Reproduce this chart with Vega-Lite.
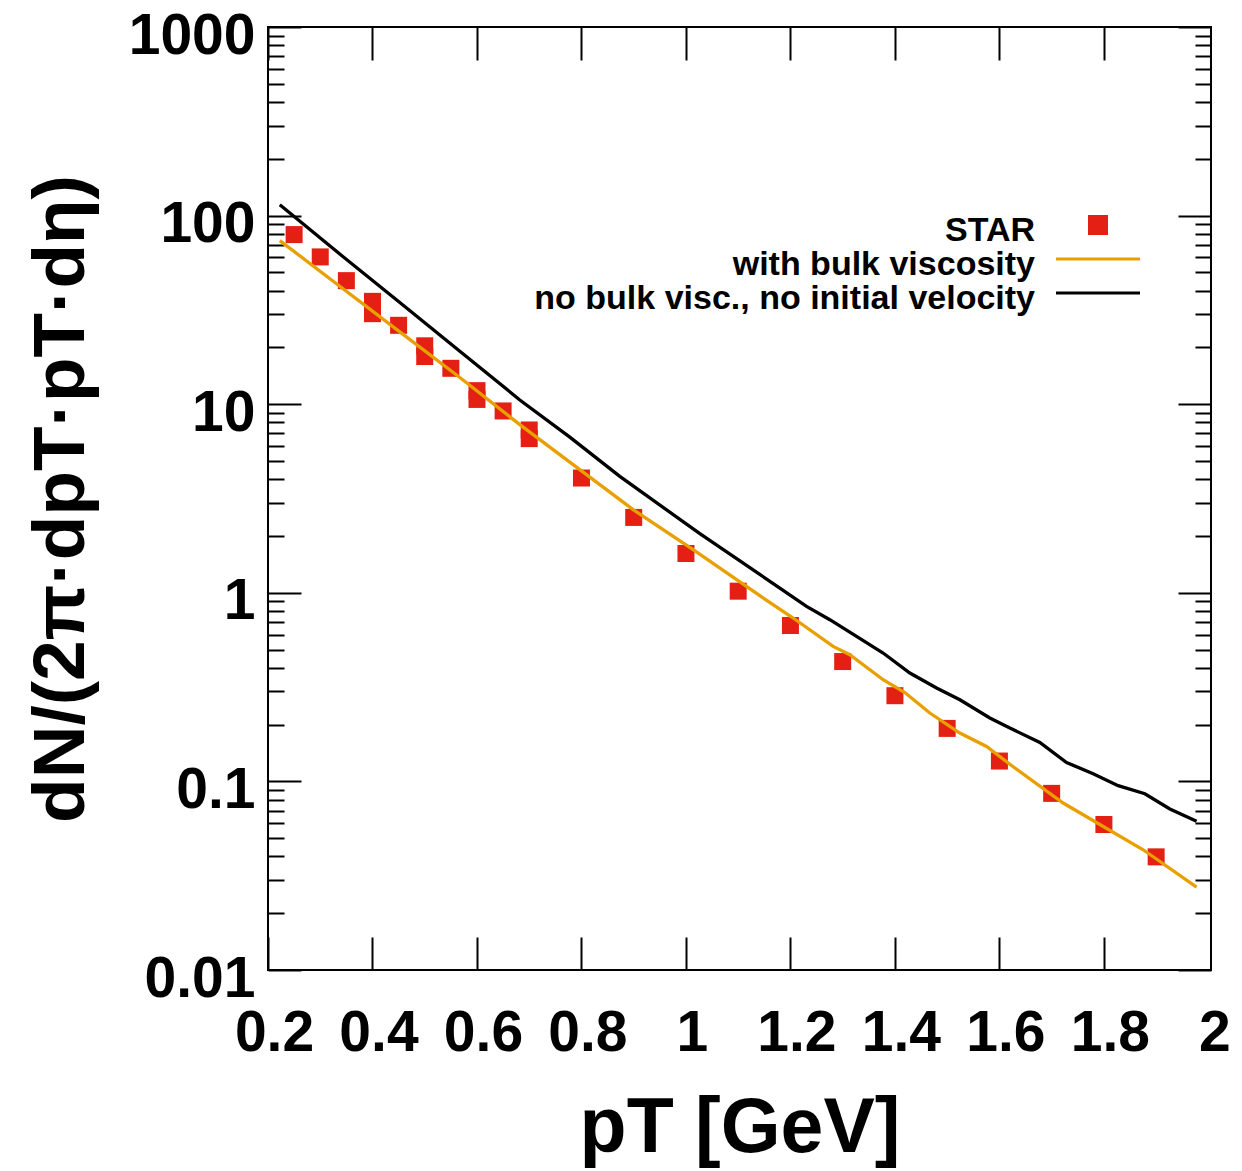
{
  "$schema": "https://vega.github.io/schema/vega-lite/v6.json",
  "width": 943,
  "height": 943,
  "autosize": {"type": "none"},
  "padding": {"left": 268, "top": 27, "right": 31, "bottom": 201},
  "background": "white",
  "config": {
    "font": "Liberation Sans",
    "view": {"stroke": "black", "strokeWidth": 2},
    "axis": {
      "domain": false, "grid": false, "tickColor": "black", "tickWidth": 2,
      "labelFont": "Liberation Sans", "labelFontWeight": "bold", "labelColor": "black",
      "titleFont": "Liberation Sans", "titleFontWeight": "bold", "titleColor": "black",
      "labelOverlap": false, "labelFlush": false, "labelBound": false, "labelLimit": 0
    }
  },
  "datasets": {
    "star": [
      {"series": "STAR", "pT": 0.25, "value": 79.3},
      {"series": "STAR", "pT": 0.3, "value": 60.4},
      {"series": "STAR", "pT": 0.35, "value": 45.2},
      {"series": "STAR", "pT": 0.4, "value": 35.1},
      {"series": "STAR", "pT": 0.45, "value": 26.2},
      {"series": "STAR", "pT": 0.5, "value": 20.4},
      {"series": "STAR", "pT": 0.55, "value": 15.5},
      {"series": "STAR", "pT": 0.6, "value": 11.8},
      {"series": "STAR", "pT": 0.65, "value": 9.21},
      {"series": "STAR", "pT": 0.7, "value": 7.3},
      {"series": "STAR", "pT": 0.4, "value": 30.2},
      {"series": "STAR", "pT": 0.5, "value": 17.9},
      {"series": "STAR", "pT": 0.6, "value": 10.6},
      {"series": "STAR", "pT": 0.7, "value": 6.57},
      {"series": "STAR", "pT": 0.8, "value": 4.06},
      {"series": "STAR", "pT": 0.9, "value": 2.51},
      {"series": "STAR", "pT": 1.0, "value": 1.616},
      {"series": "STAR", "pT": 1.1, "value": 1.02},
      {"series": "STAR", "pT": 1.2, "value": 0.671},
      {"series": "STAR", "pT": 1.3, "value": 0.432},
      {"series": "STAR", "pT": 1.4, "value": 0.2847},
      {"series": "STAR", "pT": 1.5, "value": 0.191},
      {"series": "STAR", "pT": 1.6, "value": 0.1282},
      {"series": "STAR", "pT": 1.7, "value": 0.0864},
      {"series": "STAR", "pT": 1.8, "value": 0.0591},
      {"series": "STAR", "pT": 1.9, "value": 0.0398}
    ],
    "model": [
      {"series": "no bulk visc., no initial velocity", "pT": 0.2226, "value": 114.3},
      {"series": "no bulk visc., no initial velocity", "pT": 0.3374, "value": 62.5},
      {"series": "no bulk visc., no initial velocity", "pT": 0.4523, "value": 34.6},
      {"series": "no bulk visc., no initial velocity", "pT": 0.5672, "value": 19.1},
      {"series": "no bulk visc., no initial velocity", "pT": 0.682, "value": 10.53},
      {"series": "no bulk visc., no initial velocity", "pT": 0.7777, "value": 6.69},
      {"series": "no bulk visc., no initial velocity", "pT": 0.8734, "value": 4.142},
      {"series": "no bulk visc., no initial velocity", "pT": 1.0266, "value": 2.058},
      {"series": "no bulk visc., no initial velocity", "pT": 1.1797, "value": 1.06},
      {"series": "no bulk visc., no initial velocity", "pT": 1.2308, "value": 0.847},
      {"series": "no bulk visc., no initial velocity", "pT": 1.2754, "value": 0.72},
      {"series": "no bulk visc., no initial velocity", "pT": 1.3265, "value": 0.587},
      {"series": "no bulk visc., no initial velocity", "pT": 1.3774, "value": 0.4795},
      {"series": "no bulk visc., no initial velocity", "pT": 1.4286, "value": 0.3756},
      {"series": "no bulk visc., no initial velocity", "pT": 1.4797, "value": 0.3128},
      {"series": "no bulk visc., no initial velocity", "pT": 1.5243, "value": 0.271},
      {"series": "no bulk visc., no initial velocity", "pT": 1.5817, "value": 0.2169},
      {"series": "no bulk visc., no initial velocity", "pT": 1.62, "value": 0.1919},
      {"series": "no bulk visc., no initial velocity", "pT": 1.6774, "value": 0.161},
      {"series": "no bulk visc., no initial velocity", "pT": 1.7285, "value": 0.126},
      {"series": "no bulk visc., no initial velocity", "pT": 1.7794, "value": 0.1098},
      {"series": "no bulk visc., no initial velocity", "pT": 1.8273, "value": 0.0949},
      {"series": "no bulk visc., no initial velocity", "pT": 1.8784, "value": 0.086},
      {"series": "no bulk visc., no initial velocity", "pT": 1.9263, "value": 0.0714},
      {"series": "no bulk visc., no initial velocity", "pT": 1.9774, "value": 0.0614},
      {"series": "with bulk viscosity", "pT": 0.2226, "value": 73.7},
      {"series": "with bulk viscosity", "pT": 0.3374, "value": 42.2},
      {"series": "with bulk viscosity", "pT": 0.4523, "value": 24.2},
      {"series": "with bulk viscosity", "pT": 0.5672, "value": 13.86},
      {"series": "with bulk viscosity", "pT": 0.682, "value": 7.79},
      {"series": "with bulk viscosity", "pT": 0.7968, "value": 4.5},
      {"series": "with bulk viscosity", "pT": 0.8989, "value": 2.76},
      {"series": "with bulk viscosity", "pT": 1.0137, "value": 1.693},
      {"series": "with bulk viscosity", "pT": 1.1414, "value": 0.9654},
      {"series": "with bulk viscosity", "pT": 1.2052, "value": 0.735},
      {"series": "with bulk viscosity", "pT": 1.2817, "value": 0.5196},
      {"series": "with bulk viscosity", "pT": 1.3137, "value": 0.4695},
      {"series": "with bulk viscosity", "pT": 1.3774, "value": 0.346},
      {"series": "with bulk viscosity", "pT": 1.419, "value": 0.296},
      {"series": "with bulk viscosity", "pT": 1.4668, "value": 0.2305},
      {"series": "with bulk viscosity", "pT": 1.5243, "value": 0.1805},
      {"series": "with bulk viscosity", "pT": 1.5754, "value": 0.1533},
      {"series": "with bulk viscosity", "pT": 1.6238, "value": 0.121},
      {"series": "with bulk viscosity", "pT": 1.722, "value": 0.0768},
      {"series": "with bulk viscosity", "pT": 1.8752, "value": 0.0434},
      {"series": "with bulk viscosity", "pT": 1.9774, "value": 0.02754}
    ]
  },
  "layer": [
    {
      "data": {"name": "star"},
      "mark": {"type": "point", "shape": "square", "filled": true, "size": 289, "opacity": 1, "strokeWidth": 0},
      "encoding": {
        "x": {
          "field": "pT", "type": "quantitative",
          "scale": {"domain": [0.2, 2.005], "nice": false, "zero": false},
          "axis": {
            "orient": "top", "values": [0.2, 0.4, 0.6, 0.8, 1.0, 1.2, 1.4, 1.6, 1.8, 2.0],
            "tickSize": -33, "labels": false, "title": null,
            "tickOpacity": {"condition": {"test": "datum.value >= 1.99", "value": 0}, "value": 1}
          }
        },
        "y": {
          "field": "value", "type": "quantitative",
          "scale": {"type": "log", "domain": [0.01, 1000], "nice": false},
          "axis": {
            "orient": "right",
            "values": [0.01,0.02,0.03,0.04,0.05,0.06,0.07,0.08,0.09,0.1,0.2,0.3,0.4,0.5,0.6,0.7,0.8,0.9,1,2,3,4,5,6,7,8,9,10,20,30,40,50,60,70,80,90,100,200,300,400,500,600,700,800,900,1000],
            "tickSize": {"condition": {"test": "indexof([0.01,0.1,1,10,100,1000], datum.value) >= 0", "value": -33}, "value": -16},
            "labels": false, "title": null
          }
        },
        "color": {
          "field": "series", "type": "nominal",
          "scale": {"domain": ["STAR", "with bulk viscosity", "no bulk visc., no initial velocity"], "range": ["#e41f14", "#e89f00", "#000000"]},
          "legend": {
            "orient": "none", "legendX": 813, "legendY": 187, "title": null, "padding": 0,
            "labelFont": "Liberation Sans", "labelFontWeight": "bold", "labelFontSize": 34, "labelColor": "black",
            "labelAlign": "right", "labelOffset": -80, "labelLimit": 0, "symbolSize": 289, "rowPadding": 0,
            "encode": {
              "symbols": {
                "update": {
                  "shape": {"signal": "datum.value === 'STAR' ? 'M-1,-1.7H1V0.3H-1Z' : 'M-4.94,-0.7H4.94'"},
                  "size": {"value": 289},
                  "strokeWidth": {"value": 3},
                  "opacity": {"value": 1},
                  "fill": {"signal": "datum.value === 'STAR' ? '#e41f14' : 'transparent'"},
                  "stroke": {"signal": "datum.value === 'STAR' ? 'transparent' : (datum.value === 'with bulk viscosity' ? '#e89f00' : '#000000')"}
                }
              }
            }
          }
        }
      }
    },
    {
      "data": {"name": "model"},
      "mark": {"type": "line", "strokeWidth": 3.3},
      "encoding": {
        "x": {
          "field": "pT", "type": "quantitative",
          "scale": {"domain": [0.2, 2.005], "nice": false, "zero": false},
          "axis": {
            "orient": "bottom", "values": [0.2, 0.4, 0.6, 0.8, 1.0, 1.2, 1.4, 1.6, 1.8, 2.0],
            "format": "~g", "tickSize": -33, "labelFontSize": 57, "labelPadding": 68, "labelOffset": 6,
            "title": "pT [GeV]", "titleFontSize": 77, "titlePadding": 29,
            "tickOpacity": {"condition": {"test": "datum.value >= 1.99", "value": 0}, "value": 1}
          }
        },
        "y": {
          "field": "value", "type": "quantitative",
          "scale": {"type": "log", "domain": [0.01, 1000], "nice": false},
          "axis": {
            "orient": "left",
            "values": [0.01,0.02,0.03,0.04,0.05,0.06,0.07,0.08,0.09,0.1,0.2,0.3,0.4,0.5,0.6,0.7,0.8,0.9,1,2,3,4,5,6,7,8,9,10,20,30,40,50,60,70,80,90,100,200,300,400,500,600,700,800,900,1000],
            "tickSize": {"condition": {"test": "indexof([0.01,0.1,1,10,100,1000], datum.value) >= 0", "value": -33}, "value": -16},
            "labelExpr": "indexof([0.01,0.1,1,10,100,1000], datum.value) >= 0 ? format(datum.value, '~g') : ''",
            "labelFontSize": 57, "labelPadding": 46, "labelOffset": 9,
            "title": "dN/(2π·dpT·pT·dη)", "titleFontSize": 73, "titlePadding": 30
          }
        },
        "color": {
          "field": "series", "type": "nominal",
          "scale": {"domain": ["STAR", "with bulk viscosity", "no bulk visc., no initial velocity"], "range": ["#e41f14", "#e89f00", "#000000"]},
          "legend": {
            "orient": "none", "legendX": 813, "legendY": 187, "title": null, "padding": 0,
            "labelFont": "Liberation Sans", "labelFontWeight": "bold", "labelFontSize": 34, "labelColor": "black",
            "labelAlign": "right", "labelOffset": -80, "labelLimit": 0, "symbolSize": 289, "rowPadding": 0,
            "encode": {
              "symbols": {
                "update": {
                  "shape": {"signal": "datum.value === 'STAR' ? 'M-1,-1.7H1V0.3H-1Z' : 'M-4.94,-0.7H4.94'"},
                  "size": {"value": 289},
                  "strokeWidth": {"value": 3},
                  "opacity": {"value": 1},
                  "fill": {"signal": "datum.value === 'STAR' ? '#e41f14' : 'transparent'"},
                  "stroke": {"signal": "datum.value === 'STAR' ? 'transparent' : (datum.value === 'with bulk viscosity' ? '#e89f00' : '#000000')"}
                }
              }
            }
          }
        }
      }
    }
  ],
  "resolve": {"axis": {"x": "independent", "y": "independent"}}
}
